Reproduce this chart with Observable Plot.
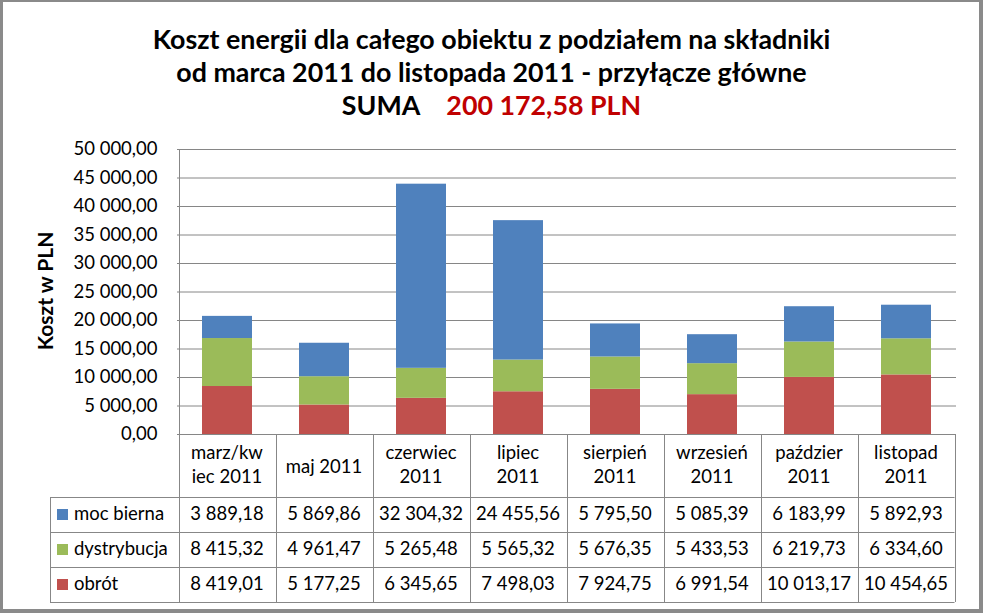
<!DOCTYPE html>
<html><head><meta charset="utf-8">
<script src="https://cdn.jsdelivr.net/npm/d3@7"></script>
<script src="https://cdn.jsdelivr.net/npm/@observablehq/plot@0.6"></script>
<style>
html,body{margin:0;padding:0;background:#fff;}
#wrap{position:relative;width:983px;height:613px;overflow:hidden;font-family:Lato,sans-serif;background:#fff;}
#wrap svg{position:absolute;left:0;top:0;}
.tl{position:absolute;left:0;width:983px;text-align:center;font-weight:bold;font-size:26.8px;line-height:32px;color:#000;white-space:pre;}
#frame{position:absolute;left:0;top:0;width:983px;height:613px;box-sizing:border-box;border-style:solid;border-color:#8a8a8a;border-width:2px 4px 4px 3px;pointer-events:none;}
</style></head>
<body>
<div id="wrap">
  <div id="chart"></div>
  <div class="tl" style="top:23px">Koszt energii dla całego obiektu z podziałem na składniki</div>
  <div class="tl" style="top:56px">od marca 2011 do listopada 2011 - przyłącze główne</div>
  <div class="tl" id="suma" style="top:89px"></div>
  <div id="frame"></div>
</div>
<script>
// ---- data ----
const categories = ["marz/kwiec 2011","maj 2011","czerwiec 2011","lipiec 2011","sierpień 2011","wrzesień 2011","październik 2011","listopad 2011"];
const categoryLabels = [["marz/kw","iec 2011"],["maj 2011"],["czerwiec","2011"],["lipiec","2011"],["sierpień","2011"],["wrzesień","2011"],["paździer","2011"],["listopad","2011"]];
const seriesNames = ["moc bierna","dystrybucja","obrót"];
const seriesColors = ["#4F81BD","#9BBB59","#C0504D"];
const mocBierna   = [3889.18, 5869.86, 32304.32, 24455.56, 5795.50, 5085.39, 6183.99, 5892.93];
const dystrybucja = [8415.32, 4961.47, 5265.48, 5565.32, 5676.35, 5433.53, 6219.73, 6334.60];
const obrot       = [8419.01, 5177.25, 6345.65, 7498.03, 7924.75, 6991.54, 10013.17, 10454.65];
const yTicks = [0, 5000, 10000, 15000, 20000, 25000, 30000, 35000, 40000, 45000, 50000];

const seriesValues = [mocBierna, dystrybucja, obrot];
const loc = d3.formatLocale({decimal: ",", thousands: "\u00a0", grouping: [3], currency: ["", ""]});
const fmt = loc.format(",.2f");

// stacking order bottom -> top: obrót, dystrybucja, moc bierna
const rows = [];
[2, 1, 0].forEach(s => categories.forEach((c, i) => rows.push({cat: c, series: seriesNames[s], value: seriesValues[s][i]})));

const total = d3.sum(rows, d => d.value);
document.getElementById("suma").innerHTML = 'SUMA<span style="color:#C00000;padding-left:26px">' + fmt(total) + ' PLN</span>';

const P = 0.487;
const chart = Plot.plot({
  width: 983, height: 613,
  marginTop: 149, marginBottom: 179, marginLeft: 177, marginRight: 27,
  style: {fontFamily: "Lato, sans-serif", fontSize: "18.5px", color: "#000", background: "transparent"},
  x: {domain: categories, paddingInner: P, paddingOuter: P / 2, axis: null},
  y: {domain: [0, 50000], axis: null},
  color: {domain: seriesNames, range: seriesColors},
  marks: [
    Plot.gridY(yTicks, {stroke: "#868686", strokeOpacity: 1}),
    Plot.barY(rows, {x: "cat", y: "value", fill: "series", order: null}),
    Plot.axisY(yTicks, {tickSize: 0, tickPadding: 20, tickFormat: fmt, label: null, fontSize: 18.5})
  ]
});
document.getElementById("chart").appendChild(chart);

// ---- data table drawn with the plot's scales ----
const xs = chart.scale("x"), ys = chart.scale("y");
const gap = xs.step - xs.bandwidth;
const colLeft = categories.map(c => xs.apply(c) - gap / 2);
const xRight = colLeft[colLeft.length - 1] + xs.step;
const y0 = ys.apply(0), yTop = ys.apply(50000);
const tableLeft = 50, headBottom = 497, rowH = 35;
const rowTops = [0, 1, 2].map(i => headBottom + i * rowH);
const tableBottom = headBottom + 3 * rowH;

const svg = d3.select("#wrap").append("svg")
  .attr("width", 983).attr("height", 613)
  .style("font-family", "Lato, sans-serif").style("font-size", "18.5px");
const lc = "#878787";
const cr = v => Math.round(v) + 0.5;
// vertical lines
colLeft.concat([xRight]).forEach((x, i) => {
  svg.append("line").attr("x1", cr(x)).attr("x2", cr(x))
    .attr("y1", i === 0 ? yTop : y0).attr("y2", tableBottom).attr("stroke", lc);
});
svg.append("line").attr("x1", cr(tableLeft)).attr("x2", cr(tableLeft))
  .attr("y1", headBottom).attr("y2", tableBottom).attr("stroke", lc);
// horizontal lines
[headBottom, ...rowTops.slice(1), tableBottom].forEach(y => {
  svg.append("line").attr("x1", tableLeft).attr("x2", xRight)
    .attr("y1", cr(y)).attr("y2", cr(y)).attr("stroke", lc);
});
// category labels
categoryLabels.forEach((lines, i) => {
  const cx = colLeft[i] + xs.step / 2;
  const t = svg.append("text").attr("text-anchor", "middle").attr("fill", "#000");
  if (lines.length === 1) {
    t.append("tspan").attr("x", cx).attr("y", 473).text(lines[0]);
  } else {
    t.append("tspan").attr("x", cx).attr("y", 459).text(lines[0]);
    t.append("tspan").attr("x", cx).attr("y", 483).text(lines[1]);
  }
});
// rows
seriesNames.forEach((name, s) => {
  const top = rowTops[s];
  svg.append("rect").attr("x", 57).attr("y", top + 12).attr("width", 11).attr("height", 11).attr("fill", seriesColors[s]);
  svg.append("text").attr("x", 74).attr("y", top + 23).attr("fill", "#000").text(name);
  seriesValues[s].forEach((v, i) => {
    svg.append("text").attr("x", colLeft[i] + xs.step / 2).attr("y", top + 23)
      .attr("text-anchor", "middle").attr("fill", "#000").text(fmt(v));
  });
});
// y axis title
svg.append("text").attr("transform", "translate(53,291) rotate(-90)")
  .attr("text-anchor", "middle").attr("font-weight", "bold").attr("font-size", "21px")
  .attr("fill", "#000").text("Koszt w PLN");
</script>
</body></html>
